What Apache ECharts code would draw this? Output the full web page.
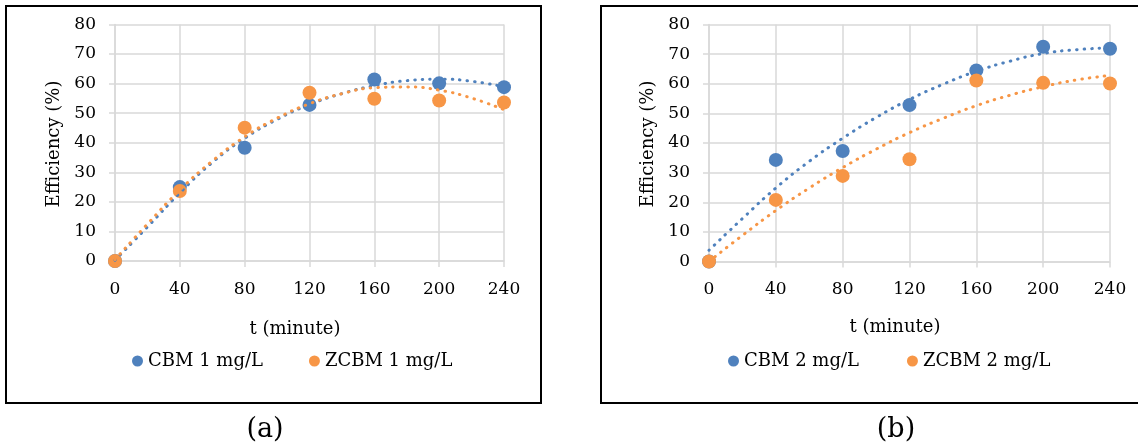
<!DOCTYPE html>
<html><head><meta charset="utf-8">
<script src="https://cdn.jsdelivr.net/npm/echarts@6/dist/echarts.min.js"></script>
<style>html,body{margin:0;padding:0;background:#fff}#c{width:1138px;height:448px}</style>
</head><body><div id="c"></div>
<script>
// ---- data ----
const times = [0, 40, 80, 120, 160, 200, 240];
const cbm1  = [0, 25.0, 38.3, 52.8, 61.4, 60.1, 58.8];
const zcbm1 = [0, 23.7, 45.1, 56.9, 54.9, 54.3, 53.6];
const cbm2  = [0, 34.3, 37.3, 52.8, 64.5, 72.5, 71.8];
const zcbm2 = [0, 20.8, 28.9, 34.5, 61.1, 60.3, 60.1];

// dotted trendlines at every 20 minutes
const trendTimes = [0, 20, 40, 60, 80, 100, 120, 140, 160, 180, 200, 220, 240];
const cbm1Trend  = [0.3, 11.5, 23.0, 33.3, 41.5, 47.9, 52.9, 56.6, 59.3, 61.0, 61.5, 60.8, 58.9];
const zcbm1Trend = [0.5, 12.5, 24.0, 33.8, 42.0, 48.3, 53.2, 56.6, 58.6, 58.9, 57.8, 55.1, 51.2];
const cbm2Trend  = [3.8, 14.5, 24.8, 33.8, 41.6, 48.6, 54.7, 59.8, 64.2, 67.6, 70.2, 71.5, 72.1];
const zcbm2Trend = [0.0, 8.8, 17.2, 24.8, 31.7, 37.9, 43.5, 48.3, 52.6, 56.1, 59.0, 61.3, 62.8];

const names = ['CBM 1 mg/L', 'ZCBM 1 mg/L', 'CBM 2 mg/L', 'ZCBM 2 mg/L'];
const panelLabels = ['(a)', '(b)'];
const xTitle = 't (minute)';
const yTitle = 'Efficiency (%)';

// ---- styling ----
const FONT = 'DejaVu Serif';
const BLUE = '#4F81BD', ORANGE = '#F79646', GRIDC = '#D9D9D9';
const pairs = (xs, ys) => xs.map((x, i) => [x, ys[i]]);

function xAxis(gi) {
  return {
    type: 'value', gridIndex: gi, min: 0, max: 240, interval: 40,
    axisLine: { lineStyle: { color: GRIDC, width: 1.5 } },
    axisTick: { show: true, length: 6, lineStyle: { color: GRIDC, width: 1.5 } },
    axisLabel: { color: '#000', fontFamily: FONT, fontSize: 17, margin: 20 },
    splitLine: { show: true, lineStyle: { color: GRIDC, width: 1.5 } }
  };
}
function yAxis(gi) {
  return {
    type: 'value', gridIndex: gi, min: 0, max: 80, interval: 10,
    axisLine: { show: true, lineStyle: { color: GRIDC, width: 1.5 } },
    axisTick: { show: true, length: 6, lineStyle: { color: GRIDC, width: 1.5 } },
    axisLabel: { color: '#000', fontFamily: FONT, fontSize: 17, margin: 19 },
    splitLine: { show: true, lineStyle: { color: GRIDC, width: 1.5 } }
  };
}
function scatter(name, gi, ys, color) {
  return { type: 'scatter', name, xAxisIndex: gi, yAxisIndex: gi, data: pairs(times, ys),
    symbol: 'circle', symbolSize: 14, itemStyle: { color, opacity: 1 }, z: 2 };
}
function trend(name, gi, ys, color) {
  return { type: 'line', name: name + ' trend', xAxisIndex: gi, yAxisIndex: gi,
    data: pairs(trendTimes, ys), smooth: true, showSymbol: false, silent: true,
    lineStyle: { color, width: 3, type: [0.5, 7], cap: 'round' }, z: 3 };
}
function legend(items, left, gap) {
  return { data: items, left, top: 352, icon: 'circle', itemWidth: 11, itemHeight: 11,
    itemGap: gap, padding: 0, selectedMode: false,
    textStyle: { fontFamily: FONT, fontSize: 18, color: '#000' } };
}
function text(t, x, y, size, rot) {
  return { type: 'text', x, y, rotation: rot || 0, z: 10,
    style: { text: t, fontFamily: FONT, fontSize: size, fill: '#000',
      align: 'center', verticalAlign: 'middle', textAlign: 'center', textVerticalAlign: 'middle' } };
}

const option = {
  animation: false,
  backgroundColor: '#fff',
  grid: [
    { left: 115, top: 24.5, width: 389, height: 236.5 },
    { left: 709, top: 24.5, width: 401, height: 237 }
  ],
  xAxis: [xAxis(0), xAxis(1)],
  yAxis: [yAxis(0), yAxis(1)],
  legend: [
    legend([names[0], names[1]], 132, 46),
    legend([names[2], names[3]], 728, 48)
  ],
  series: [
    scatter(names[0], 0, cbm1, BLUE),
    scatter(names[1], 0, zcbm1, ORANGE),
    trend(names[0], 0, cbm1Trend, BLUE),
    trend(names[1], 0, zcbm1Trend, ORANGE),
    scatter(names[2], 1, cbm2, BLUE),
    scatter(names[3], 1, zcbm2, ORANGE),
    trend(names[2], 1, cbm2Trend, BLUE),
    trend(names[3], 1, zcbm2Trend, ORANGE)
  ],
  graphic: [
    { type: 'rect', shape: { x: 6, y: 6, width: 535, height: 397 },
      style: { fill: 'none', stroke: '#000', lineWidth: 2 }, z: 0 },
    { type: 'rect', shape: { x: 601, y: 6, width: 560, height: 397 },
      style: { fill: 'none', stroke: '#000', lineWidth: 2 }, z: 0 },
    text(xTitle, 295, 329, 18),
    text(xTitle, 895, 327, 18),
    text(yTitle, 54.5, 144, 18, Math.PI / 2),
    text(yTitle, 648, 144, 18, Math.PI / 2),
    text(panelLabels[0], 265, 430, 27),
    text(panelLabels[1], 896, 430, 27)
  ]
};
const chart = echarts.init(document.getElementById('c'), null, { renderer: 'canvas' });
chart.setOption(option);
</script>
</body></html>
